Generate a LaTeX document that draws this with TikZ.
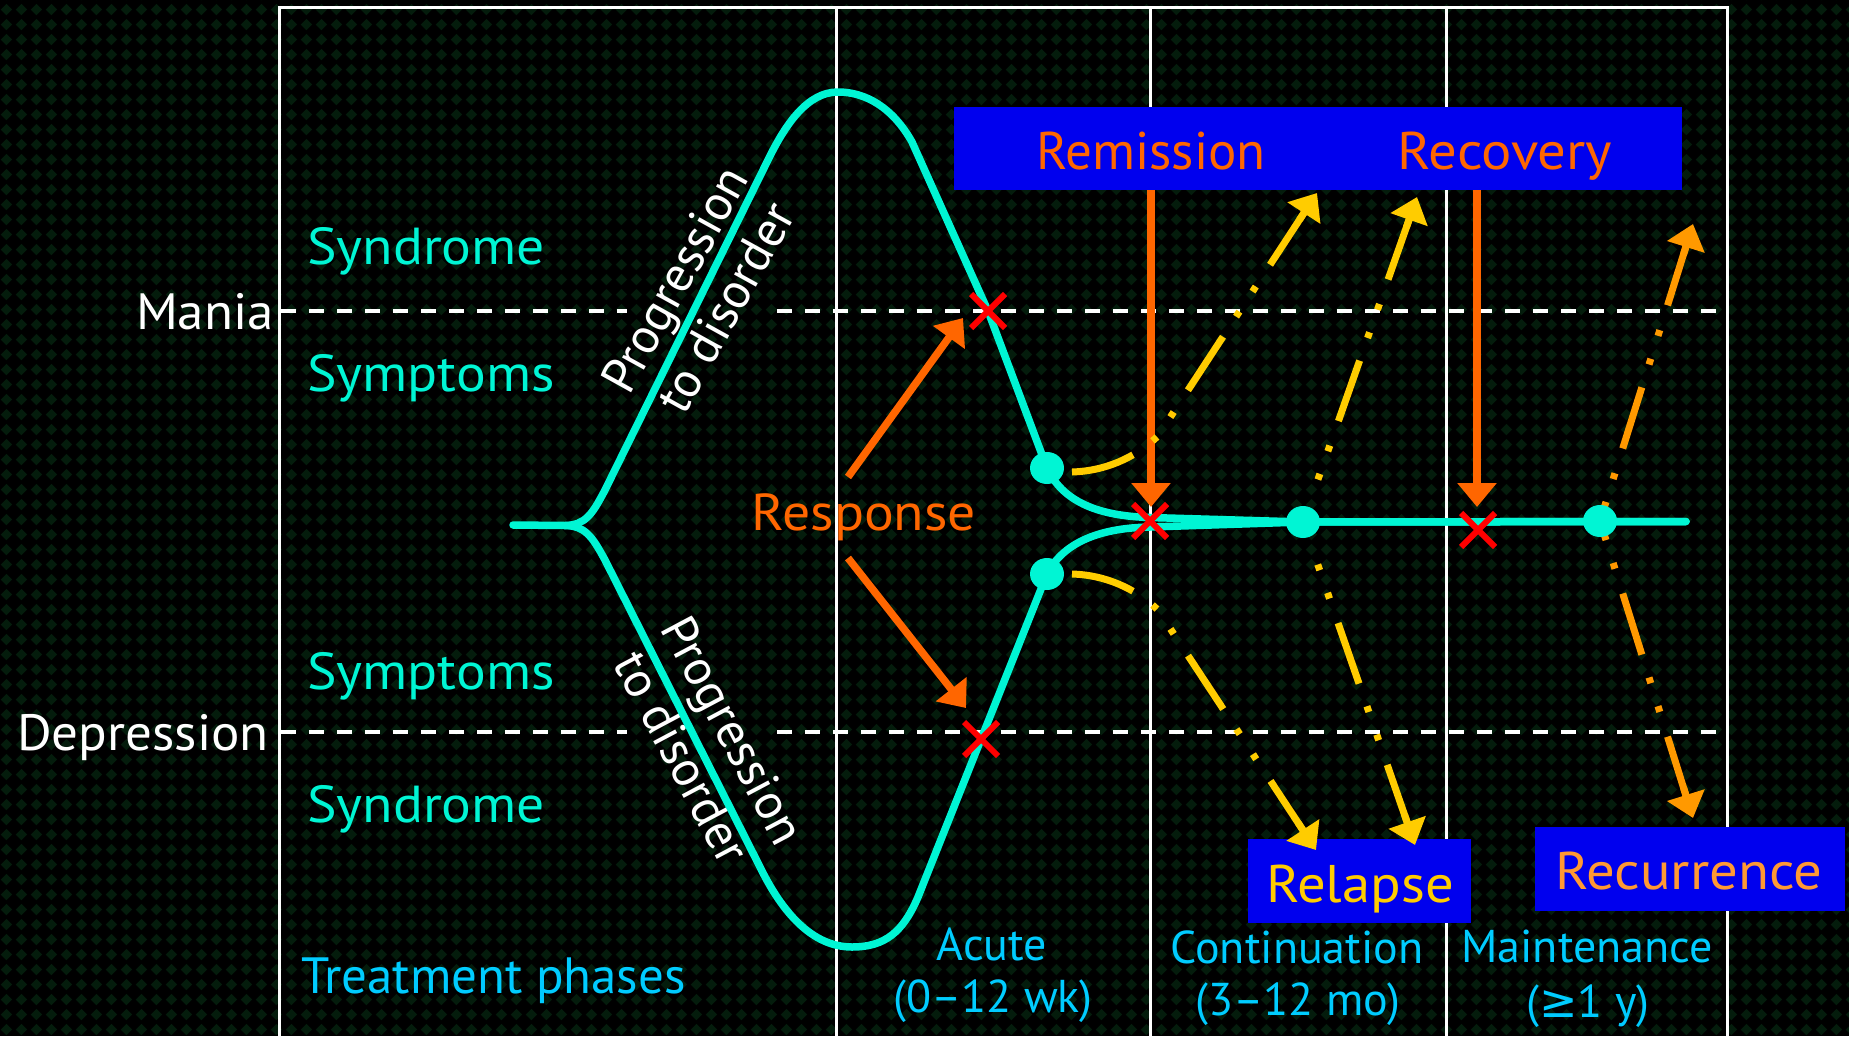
\documentclass[tikz,border=0pt]{standalone}
\usepackage{fontspec}
\setmainfont{PT Sans}
\newfontfamily\wide[FakeStretch=1.07]{PT Sans}
\newfontfamily\semiwide[FakeStretch=1.04]{PT Sans}
\newfontfamily\symf{DejaVu Sans}
\usetikzlibrary{arrows.meta,patterns,calc,shapes.misc,shapes.geometric}
\pgfdeclarepatternformonly{bgdia}{\pgfqpoint{0pt}{0pt}}{\pgfqpoint{15.4pt}{15.4pt}}{\pgfqpoint{15.4pt}{15.4pt}}{%
 \pgfpathmoveto{\pgfqpoint{7.7pt}{1.8pt}}%
 \pgfpathlineto{\pgfqpoint{13.6pt}{7.7pt}}%
 \pgfpathlineto{\pgfqpoint{7.7pt}{13.6pt}}%
 \pgfpathlineto{\pgfqpoint{1.8pt}{7.7pt}}%
 \pgfpathclose\pgfusepath{fill}}
\definecolor{bggreen}{RGB}{4,28,12}
\definecolor{cy}{RGB}{0,245,212}
\definecolor{lb}{RGB}{0,204,255}
\definecolor{org}{RGB}{255,102,0}
\definecolor{yel}{RGB}{255,204,0}
\definecolor{org2}{RGB}{255,153,0}
\definecolor{recc}{RGB}{255,153,51}
\definecolor{bbox}{RGB}{0,0,238}
\definecolor{xred}{RGB}{255,0,0}
\tikzset{
 frame/.style={draw=white, line width=3pt},
 dashline/.style={draw=white, line width=4pt, dash pattern=on 15pt off 13pt},
 curve/.style={draw=cy, line width=7.5pt, line cap=round, line join=round},
 cdot/.style={ellipse, fill=cy, minimum width=34pt, minimum height=32pt, inner sep=0pt},
 xmk/.style={cross out, draw=xred, line width=6pt, minimum size=28pt, inner sep=0pt},
 arrtip/.style={-{Triangle[length=24pt,width=38pt]}},
 solidarr/.style={draw=#1, line width=7.5pt, arrtip},
 dd/.style={draw=#1, line width=7pt, dash pattern=on 64pt off 24pt on 6pt off 24pt on 6pt off 26pt},
 bluebox/.style={fill=bbox, inner sep=0pt},
 lbl/.style={inner sep=0pt, anchor=base west},
 ctr/.style={inner sep=0pt, anchor=base},
 big/.style={font=\fontsize{51}{60}\selectfont},
 bigw/.style={font=\wide\fontsize{52}{60}\selectfont},
 bigs/.style={font=\semiwide\fontsize{51}{60}\selectfont},
 boxf/.style={font=\fontsize{53}{60}\selectfont},
 boxw/.style={font=\wide\fontsize{53}{60}\selectfont},
 phf/.style={font=\fontsize{46}{52}\selectfont, text=lb},
 progf/.style={font=\fontsize{50}{58}\selectfont, text=white, align=center, inner sep=0pt}
}
\begin{document}
\begin{tikzpicture}[x=1pt,y=-1pt]
\useasboundingbox (0,0) rectangle (1849,1036);
\fill[black] (0,0) rectangle (1849,1036);
\fill[pattern=bgdia, pattern color=bggreen] (0,0) rectangle (1849,1036);

% frame and phase separators
\draw[frame] (279.5,1036) -- (279.5,7) -- (1727,7) -- (1727,1036);
\draw[frame] (836,7) -- (836,1036);
\draw[frame] (1150,7) -- (1150,1036);
\draw[frame] (1446,7) -- (1446,1036);

% threshold lines
\draw[dashline] (281,311) -- (627,311);
\draw[dashline] (777,311) -- (1727,311);
\draw[dashline] (281,732) -- (627,732);
\draw[dashline] (777,732) -- (1727,732);

% left labels
\node[bigs, text=white, inner sep=0pt, anchor=base east] (mania) at (274,329) {Mania};
\node[bigs, text=white, inner sep=0pt, anchor=base east] (dep) at (269,750) {Depression};
\node[lbl, bigw, text=cy] (syn1) at (307,264) {Syndrome};
\node[lbl, bigw, text=cy] (sym1) at (307,391) {Symptoms};
\node[lbl, bigw, text=cy] (sym2) at (307,689) {Symptoms};
\node[lbl, bigw, text=cy] (syn2) at (307,822) {Syndrome};
\node[lbl, big, text=lb] (tp) at (301,993) {Treatment phases};

% phase labels
\node[ctr, phf] (acute) at (992,960) {Acute};
\node[ctr, phf] (acute2) at (993,1012) {(0–12 wk)};
\node[ctr, phf] (cont) at (1297,963) {Continuation};
\node[ctr, phf] (cont2) at (1298,1015) {(3–12 mo)};
\node[ctr, phf] (maint) at (1587,962) {Maintenance};
\node[ctr, phf] (maint2) at (1588,1017) {({\symf ≥}1 y)};

% progression labels
\node[progf, rotate=61] (prog1) at (700,293) {Progression\\to disorder};
\node[progf, rotate=-62] (prog2) at (708,744) {Progression\\to disorder};

% boxes
\node[bluebox, minimum width=728pt, minimum height=83pt] (rbox) at (1318,148.5) {};
\node[bluebox, minimum width=223pt, minimum height=84pt] (relbox) at (1359.5,881) {};
\node[bluebox, minimum width=310pt, minimum height=84pt] (recbox) at (1690,869) {};
\node[ctr, boxf, text=org] (remis) at (1151,169) {Remission};
\node[ctr, boxw, text=org] (recov) at (1505,169) {Recovery};
\node[ctr, boxw, text=yel] (relap) at (1360,902) {Relapse};
\node[ctr, boxw, text=recc] (recur) at (1689,889) {Recurrence};

% response label
\node[ctr, bigw, text=org] (resp) at (864,530) {Response};

% key points
\coordinate (c1) at (1047,468);
\coordinate (c2) at (1047,574);
\coordinate (c3) at (1303,522);
\coordinate (c4) at (1600,521);
\coordinate (st) at (513,525);
\coordinate (fk) at (565,525.5);
\coordinate (tail) at (1686,521.5);

% course curves
\draw[curve] (st) -- (fk) .. controls (585,525) and (592,515) .. (605,490) -- (768,160)
  .. controls (786,123) and (808,92) .. (838,92)
  .. controls (866,92) and (893,108) .. (912,142) -- (988,311) -- (c1)
  .. controls (1062,500) and (1095,516) .. (1150,517.5) -- (c3) -- (tail);
\draw[curve] (fk) .. controls (585,526) and (592,536) .. (605,560) -- (760,867)
  .. controls (782,912) and (812,947) .. (852,947)
  .. controls (885,947) and (903,932) .. (918,897) -- (c2)
  .. controls (1062,545) and (1095,528) .. (1150,527) -- (c3) -- (tail);

% remission / recovery arrows
\coordinate (remtip) at (1151,507);
\coordinate (rectip) at (1477,507);
\draw[solidarr=org] (rbox.south -| remtip) -- (remtip);
\draw[solidarr=org] (rbox.south -| rectip) -- (rectip);

% response arrows
\coordinate (ra1) at (848,477);
\coordinate (rt1) at (963,318);
\coordinate (ra2) at (848,558);
\coordinate (rt2) at (966,708);
\draw[solidarr=org] (ra1) -- (rt1);
\draw[solidarr=org] (ra2) -- (rt2);

% relapse arrows (yellow)
\coordinate (yl1s) at (1072,472);
\coordinate (yl1k) at (1158,436);
\coordinate (yl1t) at (1317,193);
\coordinate (yl2s) at (1072,574);
\coordinate (yl2k) at (1158,610);
\coordinate (yl2t) at (1316,850);
\coordinate (yr1t) at (1417,197);
\coordinate (yr2t) at (1415,845);
\draw[dd=yel, shorten >=20pt] (yl1s) .. controls (1105,471) and (1135,458) .. (yl1k) -- (yl1t);
\draw[solidarr=yel, line width=7pt] ($(yl1t)!32pt!(yl1k)$) -- (yl1t);
\draw[dd=yel, shorten >=20pt] (yl2s) .. controls (1105,575) and (1135,588) .. (yl2k) -- (yl2t);
\draw[solidarr=yel, line width=7pt] ($(yl2t)!32pt!(yl2k)$) -- (yl2t);
\draw[dd=yel, dash phase=68pt, shorten >=20pt] ($(c3)!25pt!(yr1t)$) -- (yr1t);
\draw[solidarr=yel, line width=7pt] ($(yr1t)!32pt!(c3)$) -- (yr1t);
\draw[dd=yel, dash phase=68pt, shorten >=20pt] ($(c3)!25pt!(yr2t)$) -- (yr2t);
\draw[solidarr=yel, line width=7pt] ($(yr2t)!32pt!(c3)$) -- (yr2t);

% recurrence arrows (orange)
\coordinate (ot1) at (1693,224);
\coordinate (ot2) at (1693,818);
\draw[dd=org2, dash phase=74pt, shorten >=20pt] (c4) -- (ot1);
\draw[solidarr=org2, line width=7pt] ($(ot1)!32pt!(c4)$) -- (ot1);
\draw[dd=org2, dash phase=74pt, shorten >=20pt] (c4) -- (ot2);
\draw[solidarr=org2, line width=7pt] ($(ot2)!32pt!(c4)$) -- (ot2);

% dots
\node[cdot] (d1) at (c1) {};
\node[cdot] (d2) at (c2) {};
\node[cdot] (d3) at (c3) {};
\node[cdot] (d4) at (c4) {};

% crossings
\node[xmk] (x1) at (988,311) {};
\node[xmk] (x2) at (981,739) {};
\node[xmk] (x3) at (1150,521) {};
\node[xmk] (x4) at (1478,530) {};
\end{tikzpicture}
\end{document}
